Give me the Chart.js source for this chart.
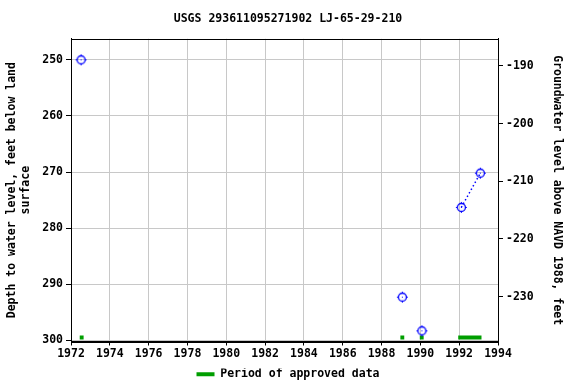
<!DOCTYPE html>
<html><head><meta charset="utf-8">
<script src="https://cdn.jsdelivr.net/npm/chart.js@4.4.1/dist/chart.umd.min.js"></script>
<style>html,body{margin:0;padding:0;background:#fff}#wrap{width:576px;height:384px}</style>
</head><body><div id="wrap"><canvas id="c" width="576" height="384"></canvas></div>
<script>
// Data
const measYears = [1972.52, 1989.07, 1990.08, 1992.11, 1993.09];
const measDepths = [250.0, 292.3, 298.3, 276.3, 270.2];
// consecutive measurements joined by dotted line
const lineYears = [1992.11, 1993.09];
const lineDepths = [276.3, 270.2];
// approved-data periods [start, end]
const approvedStart = [1972.45, 1988.97, 1989.97, 1991.95];
const approvedEnd = [1972.65, 1989.17, 1990.17, 1993.15];
const approvedDepth = 299.5;
const xTicks = [1972, 1974, 1976, 1978, 1980, 1982, 1984, 1986, 1988, 1990, 1992, 1994];
const leftTicks = [250, 260, 270, 280, 290, 300];
const rightTicks = [-190, -200, -210, -220, -230];

const FONT = '"DejaVu Sans Mono", monospace';
const BLUE = '#0000ff';
const GREEN = '#009e00';

// marker: open circle with small cross ticks
function makeMarker() {
  const c = document.createElement('canvas');
  c.width = 13; c.height = 13;
  const g = c.getContext('2d');
  g.strokeStyle = BLUE; g.lineWidth = 1.3;
  g.beginPath(); g.arc(6.5, 6.5, 4, 0, Math.PI * 2); g.stroke();
  g.lineWidth = 1;
  g.beginPath();
  g.moveTo(6.5, 1); g.lineTo(6.5, 2.5);
  g.moveTo(6.5, 10.5); g.lineTo(6.5, 12);
  g.moveTo(1, 6.5); g.lineTo(2.5, 6.5);
  g.moveTo(10.5, 6.5); g.lineTo(12, 6.5);
  g.stroke();
  g.fillStyle = BLUE; g.fillRect(6, 6, 1, 1);
  return c;
}

const approvedData = [];
approvedStart.forEach((s, i) => {
  approvedData.push({x: s, y: approvedDepth});
  approvedData.push({x: approvedEnd[i], y: approvedDepth});
  approvedData.push({x: (approvedEnd[i] + (approvedStart[i + 1] || approvedEnd[i] + 1)) / 2, y: null});
});

const frame = {
  id: 'frame',
  afterDraw(chart) {
    const a = chart.chartArea, g = chart.ctx;
    g.save(); g.strokeStyle = '#000'; g.lineWidth = 1;
    g.strokeRect(Math.round(a.left) + 0.5, Math.round(a.top) + 0.5, Math.round(a.right - a.left), Math.round(a.bottom - a.top));
    g.restore();
  }
};

new Chart(document.getElementById('c'), {
  type: 'scatter',
  data: {
    datasets: [
      {
        label: 'line', data: lineYears.map((x, i) => ({x, y: lineDepths[i]})),
        showLine: true, borderColor: BLUE, borderWidth: 1.5, borderDash: [1.5, 2.5],
        pointRadius: 0, yAxisID: 'y'
      },
      {
        label: 'meas', data: measYears.map((x, i) => ({x, y: measDepths[i]})),
        pointStyle: makeMarker(), pointRadius: 6, showLine: false, yAxisID: 'y'
      },
      {
        label: 'Period of approved data', data: approvedData,
        showLine: true, spanGaps: false, borderColor: GREEN, backgroundColor: GREEN,
        borderWidth: 4, borderCapStyle: 'butt', pointRadius: 0, yAxisID: 'y'
      }
    ]
  },
  options: {
    responsive: false, animation: false, devicePixelRatio: 1,
    layout: {padding: {top: 0, bottom: -6, left: 0, right: 0}},
    plugins: {
      tooltip: {enabled: false},
      title: {
        display: true, text: 'USGS 293611095271902 LJ-65-29-210', color: '#000',
        font: {family: FONT, size: 11.5, weight: 'bold'}, padding: {top: 12, bottom: 13}
      },
      legend: {
        display: true, position: 'bottom',
        labels: {
          color: '#000', font: {family: FONT, size: 11.5, weight: 'bold'},
          boxWidth: 18, boxHeight: 4, padding: 0,
          generateLabels: chart => [{text: 'Period of approved data', fillStyle: GREEN, strokeStyle: GREEN, lineWidth: 0, datasetIndex: 2}]
        }
      }
    },
    scales: {
      x: {
        type: 'linear', min: 1972, max: 1994,
        afterBuildTicks: s => { s.ticks = xTicks.map(v => ({value: v})); },
        afterFit: s => { s.height = 27; },
        ticks: {color: '#000', font: {family: FONT, size: 11.5, weight: 'bold'}, padding: 2, maxRotation: 0, callback: v => String(v)},
        grid: {color: '#c8c8c8', tickLength: 4, tickColor: '#000'},
        border: {color: '#000'}
      },
      y: {
        position: 'left', reverse: true, min: 246.25, max: 300.2,
        afterBuildTicks: s => { s.ticks = leftTicks.map(v => ({value: v})); },
        afterFit: s => { s.width = 71; },
        ticks: {color: '#000', font: {family: FONT, size: 11.5, weight: 'bold'}, padding: 3},
        grid: {color: '#c8c8c8', tickLength: 5, tickColor: '#000'},
        border: {color: '#000'},
        title: {display: true, text: ['Depth to water level, feet below land', 'surface'], color: '#000',
          font: {family: FONT, size: 11.5, weight: 'bold'}, padding: {top: 5, bottom: 2}}
      },
      y2: {
        position: 'right', min: -237.8, max: -185.3,
        afterBuildTicks: s => { s.ticks = rightTicks.map(v => ({value: v})); },
        afterFit: s => { s.width = 78; },
        ticks: {color: '#000', font: {family: FONT, size: 11.5, weight: 'bold'}, padding: 3},
        grid: {drawOnChartArea: false, tickLength: 5, tickColor: '#000'},
        border: {color: '#000'},
        title: {display: true, text: 'Groundwater level above NAVD 1988, feet', color: '#000',
          font: {family: FONT, size: 11.5, weight: 'bold'}, padding: {top: 12, bottom: 6}}
      }
    }
  },
  plugins: [frame]
});
</script></body></html>
